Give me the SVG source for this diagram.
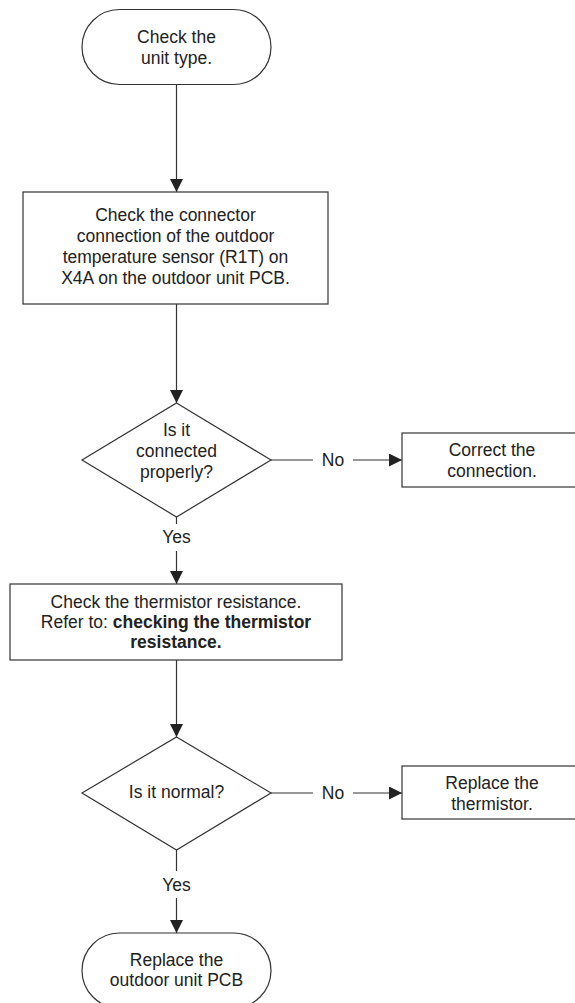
<svg xmlns="http://www.w3.org/2000/svg" width="575" height="1003" viewBox="0 0 575 1003">
<style>
.shape{fill:#fff;stroke:#333;stroke-width:1.2}
.t{font-family:"Liberation Sans",Arial,sans-serif;font-size:17.5px;fill:#222;text-anchor:middle}
.b{font-weight:bold}
.c{fill:none;stroke:#333;stroke-width:1.2}
</style>
<defs>
<marker id="ah" markerUnits="userSpaceOnUse" markerWidth="13" markerHeight="13" refX="13" refY="6.5" orient="auto">
<path d="M0,0 L13,6.5 L0,13 Z" fill="#222"/>
</marker>
</defs>
<rect width="575" height="1003" fill="#fff"/>
<g id="connectors">
<line class="c" x1="176.5" y1="84" x2="176.5" y2="192" marker-end="url(#ah)"/>
<line class="c" x1="176.5" y1="304" x2="176.5" y2="403" marker-end="url(#ah)"/>
<line class="c" x1="271" y1="460" x2="313" y2="460"/>
<line class="c" x1="353" y1="460" x2="402" y2="460" marker-end="url(#ah)"/>
<text class="t" x="333" y="466">No</text>
<line class="c" x1="176.5" y1="517" x2="176.5" y2="524"/>
<text class="t" x="176.5" y="543">Yes</text>
<line class="c" x1="176.5" y1="551" x2="176.5" y2="584" marker-end="url(#ah)"/>
<line class="c" x1="176.5" y1="660" x2="176.5" y2="737" marker-end="url(#ah)"/>
<line class="c" x1="271" y1="793" x2="313" y2="793"/>
<line class="c" x1="353" y1="793" x2="402" y2="793" marker-end="url(#ah)"/>
<text class="t" x="333" y="799">No</text>
<line class="c" x1="176.5" y1="850" x2="176.5" y2="871"/>
<text class="t" x="176.5" y="891">Yes</text>
<line class="c" x1="176.5" y1="898" x2="176.5" y2="933" marker-end="url(#ah)"/>
</g>
<g id="start">
<rect class="shape" x="82" y="9.5" width="189" height="75" rx="37.5"/>
<text class="t" x="176.5" y="43">Check the</text>
<text class="t" x="176.5" y="64">unit type.</text>
</g>
<g id="check-connector">
<rect class="shape" x="23" y="192" width="305" height="112"/>
<text class="t" x="175.5" y="221">Check the connector</text>
<text class="t" x="175.5" y="242">connection of the outdoor</text>
<text class="t" x="175.5" y="263">temperature sensor (R1T) on</text>
<text class="t" x="175.5" y="284">X4A on the outdoor unit PCB.</text>
</g>
<g id="decision-connected">
<polygon class="shape" points="176.5,403 271,460 176.5,517 82,460"/>
<text class="t" x="176.5" y="436">Is it</text>
<text class="t" x="176.5" y="457">connected</text>
<text class="t" x="176.5" y="478">properly?</text>
</g>
<g id="correct-connection">
<rect class="shape" x="402" y="433" width="184" height="54"/>
<text class="t" x="492" y="456">Correct the</text>
<text class="t" x="492" y="477">connection.</text>
</g>
<g id="check-resistance">
<rect class="shape" x="10" y="584" width="332" height="76"/>
<text class="t" x="176" y="608">Check the thermistor resistance.</text>
<text class="t" x="176" y="628">Refer to: <tspan class="b">checking the thermistor</tspan></text>
<text class="t b" x="176" y="648">resistance.</text>
</g>
<g id="decision-normal">
<polygon class="shape" points="176.5,737 271,793 176.5,850 82,793"/>
<text class="t" x="176.5" y="798">Is it normal?</text>
</g>
<g id="replace-thermistor">
<rect class="shape" x="402" y="766" width="184" height="53"/>
<text class="t" x="492" y="789">Replace the</text>
<text class="t" x="492" y="810">thermistor.</text>
</g>
<g id="end">
<rect class="shape" x="82" y="933" width="189" height="75" rx="37.5"/>
<text class="t" x="176.5" y="966">Replace the</text>
<text class="t" x="176.5" y="986">outdoor unit PCB</text>
</g>
</svg>
